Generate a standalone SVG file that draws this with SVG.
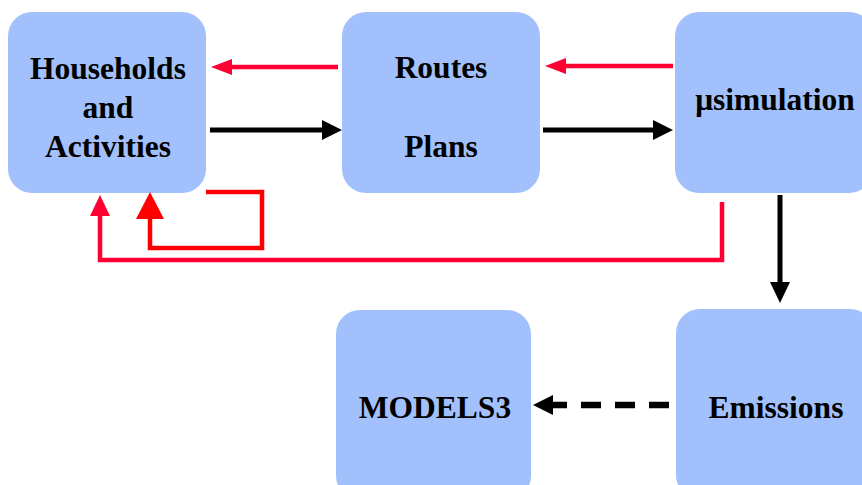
<svg xmlns="http://www.w3.org/2000/svg" width="862" height="485" viewBox="0 0 862 485">
  <style>
    .box { fill: #A2C1FC; }
    .label { font-family: "Liberation Serif", "Times New Roman", serif; font-weight: bold; font-size: 31.5px; fill: #000; text-anchor: middle; }
    .red { stroke: #FF0033; stroke-width: 4.5; fill: none; }
    .red2 { stroke: #FF0000; stroke-width: 4.5; fill: none; }
    .blk { stroke: #000; stroke-width: 5; fill: none; }
  </style>
  <rect width="862" height="485" fill="#fff"/>

  <g id="households">
    <rect class="box" x="8" y="12" width="198" height="181" rx="24"/>
    <text class="label" x="108" y="79">Households</text>
    <text class="label" x="108" y="118">and</text>
    <text class="label" x="108" y="157">Activities</text>
  </g>
  <g id="routes">
    <rect class="box" x="342" y="12" width="198" height="181" rx="24"/>
    <text class="label" x="441" y="78">Routes</text>
    <text class="label" x="441" y="157">Plans</text>
  </g>
  <g id="usimulation">
    <rect class="box" x="675" y="12" width="198" height="181" rx="24"/>
    <text class="label" x="775" y="110">μsimulation</text>
  </g>
  <g id="models3">
    <rect class="box" x="336" y="310" width="195" height="190" rx="24"/>
    <text class="label" x="435" y="418">MODELS3</text>
  </g>
  <g id="emissions">
    <rect class="box" x="676" y="309" width="198" height="190" rx="24"/>
    <text class="label" x="776" y="418">Emissions</text>
  </g>

  <g id="connectors">
    <!-- feedback: routes -> households -->
    <line class="red" x1="338" y1="67" x2="230" y2="67"/>
    <polygon points="211,67 232,59 232,75" fill="#FF0033"/>
    <!-- feedback: simulation -> routes -->
    <line class="red" x1="673" y1="66" x2="564" y2="66"/>
    <polygon points="545,66 566,58 566,74" fill="#FF0033"/>
    <!-- households -> routes -->
    <line class="blk" x1="210" y1="130" x2="324" y2="130"/>
    <polygon points="342,130 322,120 322,140" fill="#000"/>
    <!-- routes -> simulation -->
    <line class="blk" x1="543" y1="130" x2="655" y2="130"/>
    <polygon points="673,130 653,120 653,140" fill="#000"/>
    <!-- households self loop -->
    <polyline class="red2" points="206,192 262,192 262,248 150,248 150,216"/>
    <polygon points="150,192 136,219 164,219" fill="#FF0000"/>
    <!-- simulation -> households -->
    <polyline class="red" points="722,202 722,260 100,260 100,213"/>
    <polygon points="100,195 90,216 110,216" fill="#FF0033"/>
    <!-- simulation -> emissions -->
    <line class="blk" x1="780" y1="195" x2="780" y2="284"/>
    <polygon points="780,303 770,282 790,282" fill="#000"/>
    <!-- emissions -> models3 (dashed) -->
    <line x1="669" y1="405" x2="553" y2="405" stroke="#000" stroke-width="6.5" stroke-dasharray="20 14"/>
    <polygon points="533,405 553,395 553,415" fill="#000"/>
  </g>
</svg>
